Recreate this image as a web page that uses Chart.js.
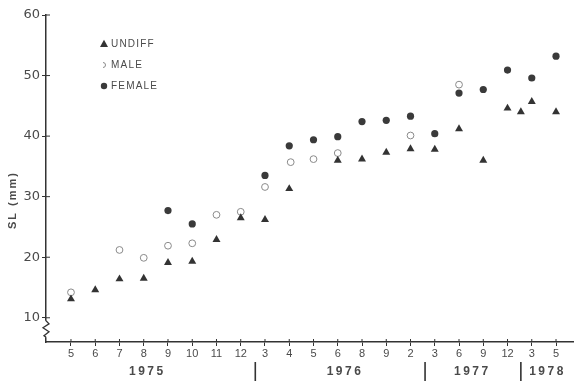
<!DOCTYPE html>
<html>
<head>
<meta charset="utf-8">
<script src="https://cdn.jsdelivr.net/npm/chart.js@4.4.1/dist/chart.umd.min.js"></script>
<style>
  html, body { margin: 0; padding: 0; background: #fff; }
  #wrap { width: 578px; height: 381px; }
</style>
</head>
<body>
<div id="wrap"><canvas id="slChart"></canvas></div>
<script>
// collection months along the x axis, one tick per sample
const monthLabels = ["5", "6", "7", "8", "9", "10", "11", "12", "3", "4", "5", "6", "8", "9", "2", "3", "6", "9", "12", "3", "5"];
const yTicks = [10, 20, 30, 40, 50, 60];
const yearLabels = ["1975", "1976", "1977", "1978"];
const yearCenters = [3.1, 11.25, 16.5, 19.6];
const yearBreaks = [7.6, 14.6, 18.55];

// [sample position, SL in mm]
const undiff = [
  [0, 13.1], [1, 14.6], [2, 16.4], [3, 16.5], [4, 19.1], [5, 19.3], [6, 22.9], [7, 26.5],
  [8, 26.2], [9, 31.3], [11, 36.0], [12, 36.2], [13, 37.3], [14, 37.9], [15, 37.8],
  [16, 41.2], [17, 36.0], [18, 44.6], [18.55, 44.0], [19, 45.7], [20, 44.0]
];
const male = [
  [0, 14.2], [2, 21.2], [3, 19.9], [4, 21.9], [5, 22.3], [6, 27.0], [7, 27.5], [8, 31.6],
  [9.06, 35.7], [10, 36.2], [11, 37.2], [14, 40.1], [16, 48.5]
];
const female = [
  [4, 27.7], [5, 25.5], [8, 33.5], [9, 38.4], [10, 39.4], [11, 39.9], [12, 42.4], [13, 42.6],
  [14, 43.3], [15, 40.4], [16, 47.1], [17, 47.7], [18, 50.9], [19, 49.6], [20, 53.2]
];

const ink = "#333";
const textGray = "#4a4a4a";

const toPoints = arr => arr.map(([x, y]) => ({ x, y }));

// axis break, inner tick halves, year bands, y title and legend
const extras = {
  id: "extras",
  afterDraw(chart) {
    const { ctx, scales: { x, y } } = chart;
    ctx.save();
    ctx.strokeStyle = ink;
    ctx.lineWidth = 1;

    ctx.beginPath();
    x.ticks.forEach(t => {
      const px = x.getPixelForValue(t.value);
      ctx.moveTo(px, x.top);
      ctx.lineTo(px, x.top - 3);
    });
    y.ticks.forEach(t => {
      const py = y.getPixelForValue(t.value);
      ctx.moveTo(y.right, py);
      ctx.lineTo(y.right + 4, py);
    });
    ctx.stroke();

    // break in the y axis just below 10
    const ax = y.right;
    const b0 = y.getPixelForValue(9.5);
    const b1 = y.getPixelForValue(6.8);
    ctx.fillStyle = "#fff";
    ctx.fillRect(ax - 2, b0, 4, b1 - b0);
    ctx.lineWidth = 1.3;
    ctx.beginPath();
    ctx.moveTo(ax, b0);
    ctx.lineTo(ax + 3, b0 + 3);
    ctx.lineTo(ax - 3, b0 + 7);
    ctx.lineTo(ax + 3, b0 + 11);
    ctx.lineTo(ax - 2, b0 + 15);
    ctx.lineTo(ax, b1);
    ctx.stroke();

    // year separators and names
    ctx.lineWidth = 1.6;
    ctx.beginPath();
    yearBreaks.forEach(v => {
      const px = x.getPixelForValue(v);
      ctx.moveTo(px, 362);
      ctx.lineTo(px, 384);
    });
    ctx.stroke();

    ctx.fillStyle = textGray;
    ctx.font = "bold 12px 'Liberation Sans'";
    ctx.letterSpacing = "2.5px";
    ctx.textAlign = "center";
    ctx.textBaseline = "middle";
    yearLabels.forEach((lab, i) => {
      ctx.fillText(lab, x.getPixelForValue(yearCenters[i]) + 1.2, 372);
    });

    // y axis title
    ctx.save();
    ctx.font = "bold 11px 'Liberation Sans'";
    ctx.translate(13, 201);
    ctx.rotate(-Math.PI / 2);
    ctx.letterSpacing = "2px";
    ctx.fillText("SL (mm)", 1, 0);
    ctx.restore();

    // legend
    ctx.font = "10px 'Liberation Sans'";
    ctx.letterSpacing = "1.2px";
    ctx.textAlign = "left";
    const lx = 104;
    const rows = [["UNDIFF", 44], ["MALE", 65], ["FEMALE", 86]];
    rows.forEach(([lab, ly]) => ctx.fillText(lab, lx + 7, ly));

    ctx.fillStyle = ink;
    ctx.beginPath();
    ctx.moveTo(lx, 44 - 4.3);
    ctx.lineTo(lx + 4, 44 + 3);
    ctx.lineTo(lx - 4, 44 + 3);
    ctx.closePath();
    ctx.fill();

    ctx.strokeStyle = "#8a8a8a";
    ctx.lineWidth = 1;
    ctx.beginPath();
    ctx.arc(lx - 1, 65, 2.5, -Math.PI / 2, Math.PI / 2);
    ctx.stroke();

    ctx.fillStyle = "#3a3a3a";
    ctx.beginPath();
    ctx.arc(lx, 86, 3.2, 0, Math.PI * 2);
    ctx.fill();

    ctx.restore();
  }
};

new Chart(document.getElementById("slChart"), {
  type: "scatter",
  data: {
    datasets: [
      {
        label: "UNDIFF",
        data: toPoints(undiff),
        pointStyle: "triangle",
        pointRadius: 4.6,
        backgroundColor: ink,
        borderColor: ink,
        borderWidth: 0
      },
      {
        label: "MALE",
        data: toPoints(male),
        pointStyle: "circle",
        pointRadius: 3.4,
        backgroundColor: "rgba(255,255,255,0)",
        borderColor: "#8a8a8a",
        borderWidth: 1
      },
      {
        label: "FEMALE",
        data: toPoints(female),
        pointStyle: "circle",
        pointRadius: 3.6,
        backgroundColor: "#3a3a3a",
        borderColor: "#3a3a3a",
        borderWidth: 0
      }
    ]
  },
  options: {
    responsive: true,
    maintainAspectRatio: false,
    animation: false,
    events: [],
    layout: { padding: { top: 15, right: 3, left: 0, bottom: 0 } },
    plugins: {
      legend: { display: false },
      tooltip: { enabled: false }
    },
    scales: {
      x: {
        type: "linear",
        min: -1.03,
        max: 20.7,
        afterBuildTicks: s => { s.ticks = monthLabels.map((_, i) => ({ value: i })); },
        afterFit: s => { s.height = 39; },
        ticks: {
          callback: v => monthLabels[v],
          autoSkip: false,
          maxRotation: 0,
          padding: 1,
          color: textGray,
          font: { family: "'Liberation Sans'", size: 11 }
        },
        grid: { drawOnChartArea: false, tickLength: 4, color: ink },
        border: { color: ink, width: 1.5 }
      },
      y: {
        min: 6,
        max: 60,
        afterBuildTicks: s => { s.ticks = yTicks.map(v => ({ value: v })); },
        afterFit: s => { s.width = 46; },
        ticks: {
          padding: 2,
          color: textGray,
          font: { family: "'DejaVu Sans'", size: 13 }
        },
        grid: { drawOnChartArea: false, tickLength: 4, color: ink },
        border: { color: ink, width: 1.5 }
      }
    }
  },
  plugins: [extras]
});
</script>
</body>
</html>
